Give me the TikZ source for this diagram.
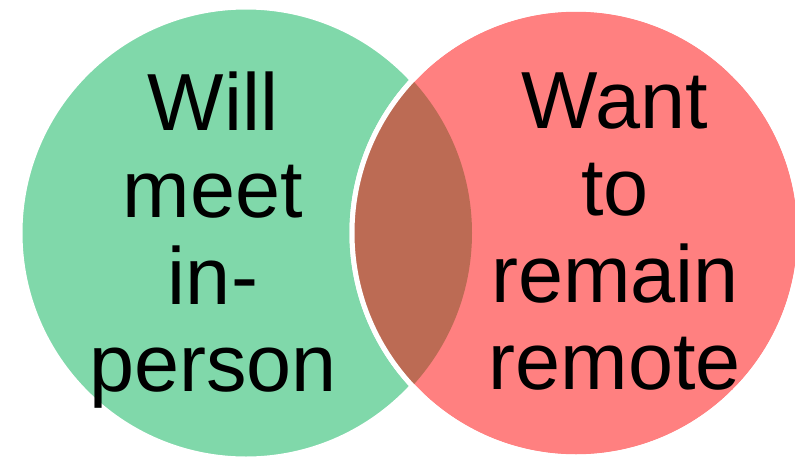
\documentclass[tikz,border=0pt]{standalone}
\usepackage{fontspec}
\setmainfont{Liberation Sans}
\usetikzlibrary{positioning}
\definecolor{Mint}{HTML}{80D8AA}
\definecolor{Salmon}{HTML}{FF8080}
\definecolor{Brick}{HTML}{BC6B54}
\begin{document}
\begin{tikzpicture}[x=1pt,y=-1pt,
    ring/.style={draw=white,line width=5pt},
    settext/.style={align=center,anchor=base,inner sep=0pt,font=\fontsize{81}{87}\selectfont}]
  \useasboundingbox (0,0) rectangle (795,458);
  \coordinate (gc) at (246,233);
  \coordinate (rc) at (576,233);
  % the two sets
  \fill[Mint,ring] (gc) circle (226pt);
  \fill[Salmon,ring] (rc) circle (224pt);
  \begin{scope}
    \clip (gc) circle (226pt);
    \fill[Brick] (rc) circle (224pt);
  \end{scope}
  \draw[ring] (rc) circle (224pt);
  \node[settext] (inperson) at (213,391) {Will\\meet\\in-\\person};
  \node[settext] (remote) at (615,389) {Want\\to\\remain\\remote};
\end{tikzpicture}
\end{document}
